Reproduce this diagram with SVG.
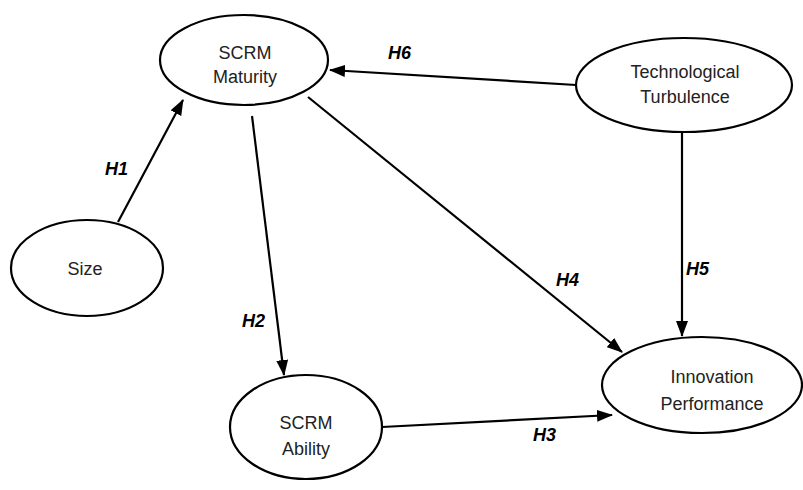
<svg xmlns="http://www.w3.org/2000/svg" width="803" height="490" viewBox="0 0 803 490">
<style>
.node ellipse{fill:#fff;stroke:#000;stroke-width:2.2}
.node text{font-family:"Liberation Sans",Arial,sans-serif;font-size:18px;fill:#222;text-anchor:middle}
.edges line{stroke:#000;stroke-width:2.2;marker-end:url(#ah)}
.lbl{font-family:"Liberation Sans",Arial,sans-serif;font-size:18px;font-weight:bold;font-style:italic;fill:#000}
</style>
<defs>
<marker id="ah" markerUnits="userSpaceOnUse" markerWidth="16" markerHeight="12" refX="15" refY="6" orient="auto">
<path d="M0,0 L16,6 L0,12 z" fill="#000"/>
</marker>
</defs>
<rect width="803" height="490" fill="#fff"/>
<g class="edges">
<line x1="118" y1="222" x2="183" y2="100"/>
<line x1="576" y1="85" x2="330" y2="70"/>
<line x1="252" y1="116" x2="284" y2="375"/>
<line x1="308" y1="97" x2="622" y2="352"/>
<line x1="682" y1="133" x2="682" y2="336"/>
<line x1="382" y1="427" x2="612" y2="415"/>
</g>
<g id="maturity" class="node">
<ellipse cx="244" cy="60" rx="84" ry="45"/>
<text x="245" y="59">SCRM</text>
<text x="245" y="83">Maturity</text>
</g>
<g id="turbulence" class="node">
<ellipse cx="684" cy="85" rx="108" ry="47"/>
<text x="685" y="78">Technological</text>
<text x="685" y="103">Turbulence</text>
</g>
<g id="size" class="node">
<ellipse cx="87" cy="268" rx="76" ry="48"/>
<text x="85" y="275">Size</text>
</g>
<g id="ability" class="node">
<ellipse cx="306" cy="427" rx="76" ry="52"/>
<text x="306" y="429">SCRM</text>
<text x="306" y="455">Ability</text>
</g>
<g id="performance" class="node">
<ellipse cx="702" cy="385" rx="100" ry="48"/>
<text x="712" y="383">Innovation</text>
<text x="712" y="410">Performance</text>
</g>
<g id="labels">
<text class="lbl" x="105" y="175">H1</text>
<text class="lbl" x="242" y="327">H2</text>
<text class="lbl" x="533" y="441">H3</text>
<text class="lbl" x="556" y="286">H4</text>
<text class="lbl" x="686" y="275">H5</text>
<text class="lbl" x="388" y="59">H6</text>
</g>
</svg>
